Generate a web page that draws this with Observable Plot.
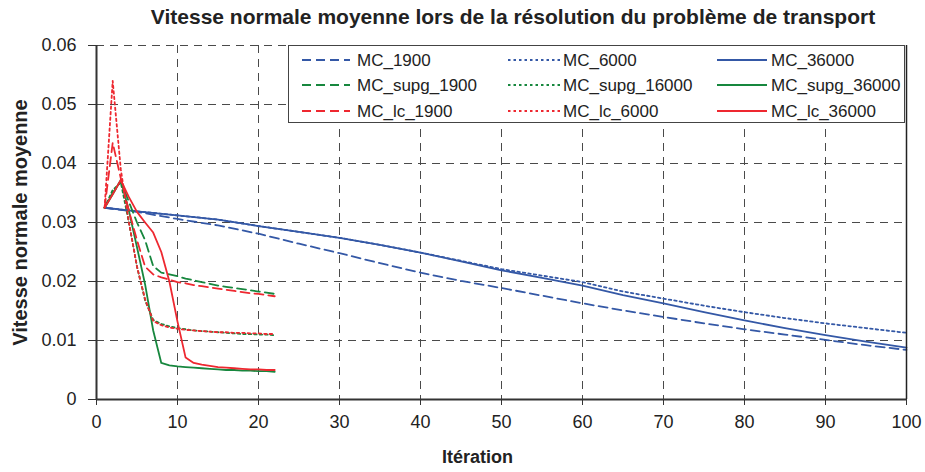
<!DOCTYPE html>
<html><head><meta charset="utf-8">
<script src="https://cdn.jsdelivr.net/npm/d3@7"></script>
<script src="https://cdn.jsdelivr.net/npm/@observablehq/plot@0.6"></script>
<style>
body{margin:0;background:#fff;font-family:"Liberation Sans",Arial,sans-serif;}
#wrap{position:relative;width:925px;height:472px;overflow:hidden;}
#title{position:absolute;top:5px;left:0;width:1026px;text-align:center;font-weight:bold;font-size:21px;color:#222;z-index:2;white-space:nowrap;}
#chart{position:absolute;left:0;top:0;}
#legend{position:absolute;left:288px;top:45px;z-index:3;}
</style></head><body>
<div id="wrap"><div id="title">Vitesse normale moyenne lors de la résolution du problème de transport</div><div id="chart"></div><div id="legend"></div></div>
<script>
// ---- data ----
const titleText = "Vitesse normale moyenne lors de la résolution du problème de transport";
const xLabel = "Itération";
const yLabel = "Vitesse normale moyenne";
const xTicks = [0,10,20,30,40,50,60,70,80,90,100];
const yTicks = [0,0.01,0.02,0.03,0.04,0.05,0.06];

const iterLong = [1,5,10,15,20,25,30,35,40,45,50,55,60,65,70,75,80,85,90,95,100];
const mc1900  = [0.0325,0.0318,0.0306,0.0295,0.0281,0.0264,0.0248,0.0231,0.0215,0.0201,0.0189,0.0176,0.0163,0.0151,0.0140,0.0129,0.0119,0.0110,0.0101,0.0092,0.0084];
const mc6000  = [0.0325,0.0319,0.0312,0.0305,0.0294,0.0284,0.0274,0.0262,0.0249,0.0235,0.0221,0.0210,0.0199,0.0183,0.0171,0.0159,0.0148,0.0138,0.0129,0.0121,0.0113];
const mc36000 = [0.0325,0.0319,0.0312,0.0305,0.0294,0.0284,0.0274,0.0262,0.0249,0.0234,0.0219,0.0206,0.0193,0.0177,0.0163,0.0148,0.0134,0.0121,0.0109,0.0098,0.0088];

const iterShort = [1,2,3,4,5,6,7,8,9,10,11,12,13,14,15,16,17,18,19,20,21,22];
const supg1900  = [0.0325,0.0350,0.0370,0.0335,0.0300,0.0270,0.0226,0.0215,0.0212,0.0209,0.0205,0.0202,0.0199,0.0196,0.0193,0.0191,0.0189,0.0187,0.0185,0.0183,0.0181,0.0179];
const supg16000 = [0.0325,0.0355,0.0368,0.0300,0.0225,0.0168,0.0135,0.0128,0.0124,0.0121,0.0119,0.0117,0.0116,0.0115,0.0114,0.0113,0.0112,0.0111,0.0111,0.0110,0.0110,0.0109];
const supg36000 = [0.0325,0.0348,0.0372,0.0320,0.0258,0.0195,0.0117,0.0062,0.0058,0.0056,0.0055,0.0054,0.0053,0.0052,0.0051,0.0050,0.0050,0.0049,0.0049,0.0048,0.0048,0.0047];
const lc1900    = [0.0325,0.0435,0.0375,0.0320,0.0270,0.0225,0.0212,0.0207,0.0203,0.0199,0.0197,0.0194,0.0192,0.0190,0.0188,0.0186,0.0184,0.0182,0.0180,0.0179,0.0177,0.0175];
const lc6000    = [0.0325,0.0540,0.0390,0.0300,0.0225,0.0170,0.0133,0.0126,0.0122,0.0120,0.0118,0.0117,0.0116,0.0115,0.0114,0.0114,0.0113,0.0113,0.0112,0.0112,0.0111,0.0111];
const lc36000   = [0.0325,0.0348,0.0372,0.0343,0.0318,0.0300,0.0283,0.0250,0.0200,0.0132,0.0071,0.0062,0.0059,0.0057,0.0055,0.0054,0.0053,0.0052,0.0051,0.0051,0.0050,0.0050];

const seriesNames = ["MC_1900","MC_6000","MC_36000","MC_supg_1900","MC_supg_16000","MC_supg_36000","MC_lc_1900","MC_lc_6000","MC_lc_36000"];

// ---- styles ----
const BLUE = "#3458a6", GREEN = "#17873e", RED = "#ee2830";
const DASH = "9,5", DOT = "2.5,3", SOLID = null;
const seriesDefs = [
  {name:seriesNames[0], xs:iterLong, ys:mc1900, color:BLUE, dash:DASH},
  {name:seriesNames[1], xs:iterLong, ys:mc6000, color:BLUE, dash:DOT},
  {name:seriesNames[2], xs:iterLong, ys:mc36000, color:BLUE, dash:SOLID},
  {name:seriesNames[3], xs:iterShort, ys:supg1900, color:GREEN, dash:DASH},
  {name:seriesNames[4], xs:iterShort, ys:supg16000, color:GREEN, dash:DOT},
  {name:seriesNames[5], xs:iterShort, ys:supg36000, color:GREEN, dash:SOLID},
  {name:seriesNames[6], xs:iterShort, ys:lc1900, color:RED, dash:DASH},
  {name:seriesNames[7], xs:iterShort, ys:lc6000, color:RED, dash:DOT},
  {name:seriesNames[8], xs:iterShort, ys:lc36000, color:RED, dash:SOLID}
];

const lineMarks = seriesDefs.map(s => Plot.line(
  s.xs.map((x,i) => ({x, y: s.ys[i]})),
  {x:"x", y:"y", stroke:s.color, strokeWidth:1.8, strokeDasharray:s.dash, strokeLinejoin:"round"}
));

const FONT = '"Liberation Sans", Arial, sans-serif';
const chart = Plot.plot({
  width: 925, height: 472,
  marginLeft: 96, marginRight: 19, marginTop: 45, marginBottom: 73,
  style: {fontFamily: FONT, fontSize: "18px", color: "#222", background: "transparent"},
  x: {domain:[0,100]},
  y: {domain:[0,0.06]},
  marks: [
    Plot.gridX(xTicks.slice(1,-1), {stroke:"#4a4a4a", strokeOpacity:1, strokeWidth:1, strokeDasharray:"8,6"}),
    Plot.gridY(yTicks.slice(1), {stroke:"#4a4a4a", strokeOpacity:1, strokeWidth:1, strokeDasharray:"8,6"}),
    ...lineMarks,
    Plot.axisX(xTicks, {tickSize:6, tickPadding:10, label:null, stroke:"#333", fontSize:18}),
    Plot.axisY(yTicks, {tickSize:8, tickPadding:12, label:null, stroke:"#333", fontSize:18, tickFormat: d => d === 0 ? "0" : d.toFixed(2)}),
    Plot.ruleX([0], {stroke:"#333", strokeWidth:2}),
    Plot.ruleX([100], {stroke:"#222", strokeWidth:1.5}),
    Plot.ruleY([0], {stroke:"#333", strokeWidth:2}),
    Plot.text([xLabel], {frameAnchor:"bottom", dx:-24, dy:63, fontWeight:"bold", fontSize:18, fill:"#222"}),
    Plot.text([yLabel], {frameAnchor:"left", textAnchor:"middle", dx:-76, rotate:-90, fontWeight:"bold", fontSize:20, fill:"#222"})
  ]
});
document.getElementById("chart").appendChild(chart);

// ---- legend ----
const lw = 617, lh = 78;
const leg = d3.select("#legend").append("svg").attr("width", lw).attr("height", lh)
  .style("font-family", FONT).style("font-size", "17px");
leg.append("rect").attr("x",0.5).attr("y",0.5).attr("width",lw-1).attr("height",lh-1)
  .attr("fill","#fff").attr("stroke","#444").attr("stroke-width",1);
const colX = [{x0:14,x1:62,tx:69},{x0:220,x1:272,tx:275},{x0:429,x1:479,tx:483}];
const rowY = [15,40,66];
seriesDefs.forEach((s,i) => {
  const c = colX[i%3], r = rowY[Math.floor(i/3)];
  leg.append("line").attr("x1",c.x0).attr("x2",c.x1).attr("y1",r).attr("y2",r)
    .attr("stroke",s.color).attr("stroke-width",2).attr("stroke-dasharray",s.dash);
  leg.append("text").attr("x",c.tx).attr("y",r).attr("dy","0.36em").attr("fill","#222").text(s.name);
});
</script>
</body></html>
